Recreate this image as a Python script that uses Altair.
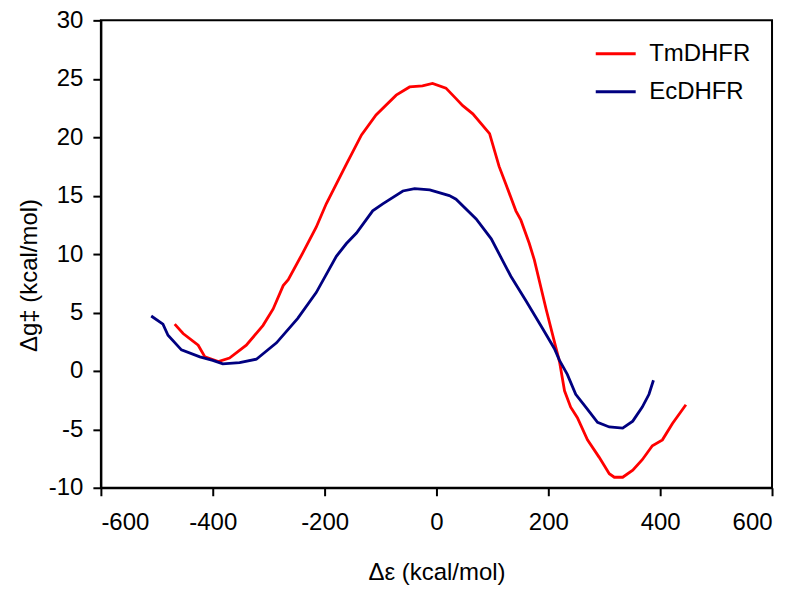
import altair as alt
import pandas as pd

# TmDHFR (red)
tm_x = [-468, -453, -426, -414, -390, -370, -340, -310, -292, -274, -265, -239, -215,
        -197, -161, -134, -108, -72, -48, -25, -7, 17, 35, 47, 65, 95, 112, 124, 142,
        151, 166, 175, 196, 214, 220, 229, 240, 252, 270, 291, 309, 318, 333, 351,
        368, 386, 404, 422, 446]
tm_y = [4.0, 3.2, 2.2, 1.2, 0.8, 1.1, 2.2, 3.9, 5.3, 7.3, 7.8, 10.1, 12.3,
        14.3, 17.7, 20.2, 21.9, 23.6, 24.3, 24.4, 24.6, 24.2, 23.3, 22.7, 22.0, 20.3,
        17.5, 16.0, 13.7, 12.9, 10.9, 9.5, 5.3, 1.9, 0.8, -1.7, -3.1, -4.0, -5.9,
        -7.4, -8.8, -9.1, -9.1, -8.5, -7.6, -6.4, -5.9, -4.5, -2.9]

# EcDHFR (navy)
ec_x = [-510, -489, -480, -456, -423, -400, -382, -352, -322, -286, -248, -215, -179,
        -161, -143, -114, -96, -60, -39, -12, 23, 35, 71, 98, 133, 160, 190, 211, 220,
        234, 249, 267, 288, 309, 333, 351, 368, 380, 388]
ec_y = [4.7, 4.0, 3.05, 1.8, 1.2, 0.9, 0.6, 0.7, 1.0, 2.4, 4.5, 6.7, 9.8,
        10.9, 11.8, 13.7, 14.3, 15.4, 15.6, 15.5, 15.0, 14.7, 13.0, 11.3, 8.1, 6.0,
        3.6, 1.9, 0.9, -0.3, -2.0, -3.1, -4.4, -4.8, -4.9, -4.3, -3.1, -2.0, -0.8]

series = ["TmDHFR", "EcDHFR"]
colors = ["#ff0000", "#000080"]

df = pd.concat([
    pd.DataFrame({"de": tm_x, "dg": tm_y, "enzyme": "TmDHFR", "i": range(len(tm_x))}),
    pd.DataFrame({"de": ec_x, "dg": ec_y, "enzyme": "EcDHFR", "i": range(len(ec_x))}),
])

font = "Liberation Sans"
fs = 24

chart = alt.Chart(df).mark_line(strokeWidth=2.8).encode(
    x=alt.X("de:Q", title="Δε (kcal/mol)",
            scale=alt.Scale(domain=[-600, 600], nice=False),
            axis=alt.Axis(values=list(range(-600, 601, 200)), labelPadding=15,
                          titlePadding=26, labelExpr="'' + datum.value")),
    y=alt.Y("dg:Q", title="Δg‡ (kcal/mol)",
            scale=alt.Scale(domain=[-10, 30], nice=False),
            axis=alt.Axis(values=list(range(-10, 31, 5)), labelPadding=10,
                          titlePadding=7, titleY=255, labelExpr="'' + datum.value")),
    color=alt.Color("enzyme:N", scale=alt.Scale(domain=series, range=colors),
                    legend=alt.Legend(title=None, orient="none", legendX=494, legendY=12,
                                      symbolType="stroke", symbolSize=1600,
                                      symbolStrokeWidth=3, labelFontSize=fs,
                                      labelFont=font, labelOffset=12, rowPadding=4,
                                      padding=0, labelColor="black")),
    order="i:Q"
).properties(
    width=672,
    height=468,
    autosize=alt.AutoSizeParams(type="none"),
    padding={"left": 93, "top": 12, "right": 20, "bottom": 100}
).configure_view(
    stroke="black",
    strokeWidth=2
).configure_axis(
    grid=False,
    domainColor="black",
    domainWidth=2,
    tickColor="black",
    tickWidth=2,
    tickSize=8,
    labelFont=font,
    labelFontSize=fs,
    labelColor="black",
    titleFont=font,
    titleFontSize=fs,
    titleFontWeight="normal",
    titleColor="black"
)

chart.save("out.html", embed_options={"renderer": "svg", "actions": False})
